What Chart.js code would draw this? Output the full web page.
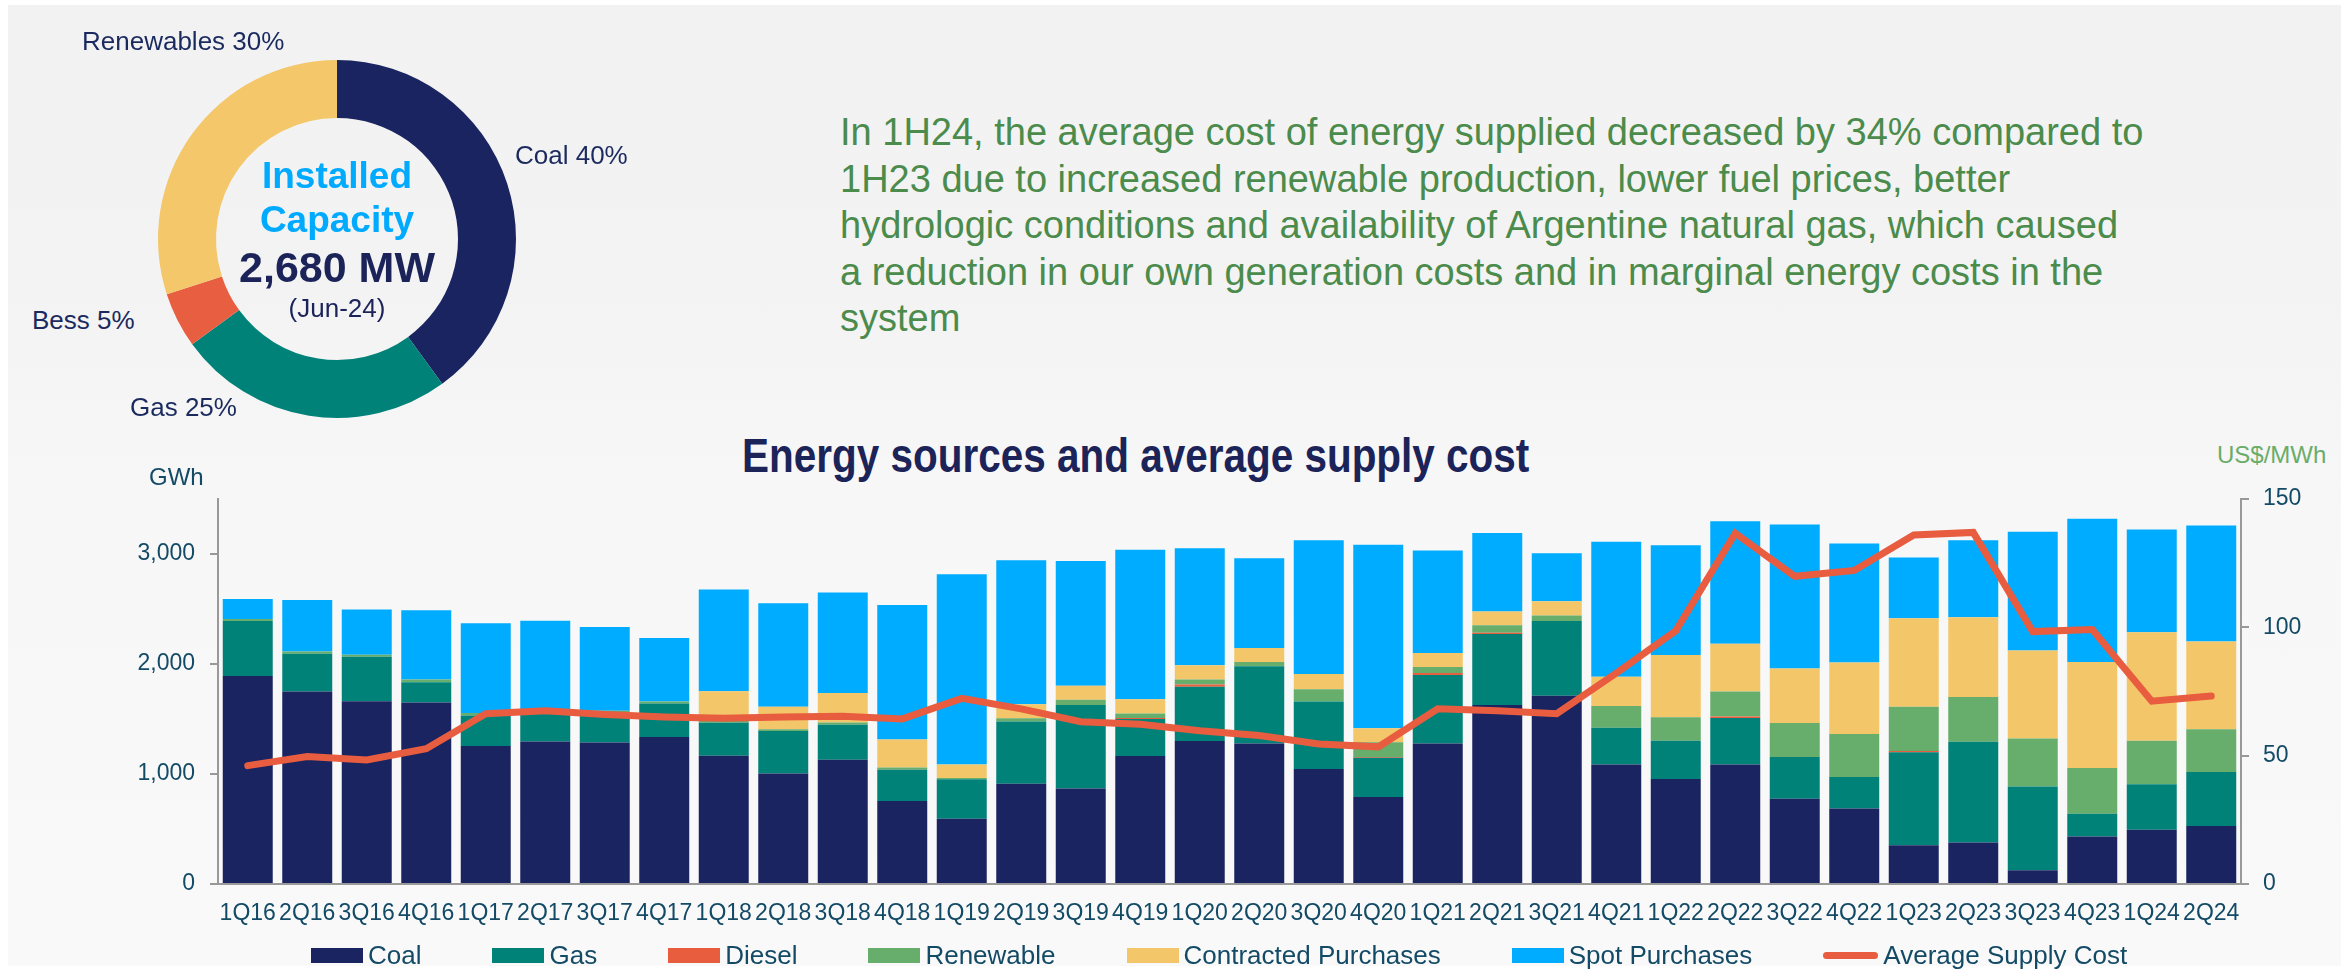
<!DOCTYPE html>
<html>
<head>
<meta charset="UTF-8">
<title>Energy sources and average supply cost</title>
<script src="https://cdn.jsdelivr.net/npm/chart.js@4.4.1/dist/chart.umd.min.js"></script>
<style>
  body { margin: 0; width: 2351px; height: 971px; background: #ffffff; position: relative; overflow: hidden;
         font-family: "Liberation Sans", Arial, sans-serif; }
  #panel { position: absolute; left: 8px; top: 5px; width: 2333px; height: 961px;
           background: linear-gradient(to bottom, #f2f2f2 0%, #f3f3f3 30%, #f7f7f7 50%, #f9f9f9 100%); }
  .txt { position: absolute; white-space: nowrap; line-height: 1; }
  .mid { transform: translateX(-50%); }
  #donutWrap { position: absolute; left: 137px; top: 39px; width: 400px; height: 400px; }
  #barWrap { position: absolute; left: 0; top: 470px; width: 2351px; height: 480px; }
  #para { position: absolute; left: 840px; top: 109px; color: #4b8b4b; font-size: 38px; line-height: 46.5px; white-space: nowrap; }
  #legend { position: absolute; left: 311px; top: 942px; height: 26px; display: flex; align-items: center; gap: 71px;
            font-size: 26px; color: #134a66; }
  .item { display: flex; align-items: center; }
  .box { width: 52px; height: 15px; margin-right: 5px; }
  .lineBox { width: 55px; height: 7px; border-radius: 4px; margin-right: 5px; }
</style>
</head>
<body>
<div id="panel"></div>

<div id="donutWrap"><canvas id="donut"></canvas></div>

<div class="txt" style="left:82px;top:28px;font-size:26px;color:#1b2a5e">Renewables 30%</div>
<div class="txt" style="left:515px;top:142px;font-size:26px;color:#1b2a5e">Coal 40%</div>
<div class="txt" style="left:32px;top:307px;font-size:26px;color:#1b2a5e">Bess 5%</div>
<div class="txt" style="left:130px;top:394px;font-size:26px;color:#1b2a5e">Gas 25%</div>

<div class="txt mid" style="left:337px;top:157px;font-size:37px;font-weight:bold;color:#00aaff">Installed</div>
<div class="txt mid" style="left:337px;top:201px;font-size:37px;font-weight:bold;color:#00aaff">Capacity</div>
<div class="txt mid" style="left:337px;top:246px;font-size:43px;font-weight:bold;color:#1b2359">2,680 MW</div>
<div class="txt mid" style="left:337px;top:295px;font-size:26px;color:#1b2359">(Jun-24)</div>

<div id="para">In 1H24, the average cost of energy supplied decreased by 34% compared to<br>1H23 due to increased renewable production, lower fuel prices, better<br>hydrologic conditions and availability of Argentine natural gas, which caused<br>a reduction in our own generation costs and in marginal energy costs in the<br>system</div>

<div class="txt" style="left:742px;top:431px;font-size:49px;font-weight:bold;color:#1b2359;transform:scaleX(0.826);transform-origin:left top">Energy sources and average supply cost</div>
<div class="txt" style="left:149px;top:465px;font-size:24px;color:#134a66">GWh</div>
<div class="txt" style="left:2217px;top:443px;font-size:24px;color:#6aad6a">US$/MWh</div>

<div id="barWrap"><canvas id="bars"></canvas></div>
<div id="legend"></div>

<script>
// installed capacity (Jun-24)
var capLabels = ["Coal", "Gas", "Bess", "Renewables"];
var capShare = [40, 25, 5, 30];
var capColors = ["#1a2460", "#008278", "#e85e40", "#f3c76a"];

// quarterly energy sources, GWh
var quarters = ["1Q16","2Q16","3Q16","4Q16","1Q17","2Q17","3Q17","4Q17","1Q18","2Q18","3Q18","4Q18",
                "1Q19","2Q19","3Q19","4Q19","1Q20","2Q20","3Q20","4Q20","1Q21","2Q21","3Q21","4Q21",
                "1Q22","2Q22","3Q22","4Q22","1Q23","2Q23","3Q23","4Q23","1Q24","2Q24"];
var coal =       [1890,1750,1660,1650,1255,1295,1285,1335,1165,1005,1130,755, 593, 910, 868, 1164,1300,1276,1046,791, 1276,1627,1710,1085, 954, 1085,775, 686, 351, 376, 124, 431, 494, 526];
var gas =        [500, 343, 404, 184, 276, 265, 275, 305, 300, 386, 318, 282, 358, 567, 759, 335, 493, 702, 613, 357, 622, 644, 679, 335, 348, 424, 380, 287, 845, 916, 763, 207, 412, 492];
var diesel =     [0,   0,   0,   0,   0,   0,   0,   0,   0,   0,   0,   0,   0,   0,   0,   10,  19,  0,   0,   5,   19,  13,  0,   0,   0,   13,  0,   0,   13,  0,   0,   0,   0,   0];
var renewable =  [18,  19,  19,  23,  22,  15,  15,  19,  15,  16,  19,  22,  12,  29,  48,  41,  45,  38,  111, 136, 54,  67,  51,  197, 213, 226, 309, 389, 402, 408, 434, 415, 396, 389];
var contracted = [0,   0,   0,   0,   0,   0,   0,   0,   271, 204, 268, 255, 122, 127, 127, 128, 130, 128, 138, 127, 128, 124, 128, 265, 565, 434, 495, 651, 804, 724, 800, 963, 985, 797];
var spot =       [182, 469, 412, 631, 817, 818, 760, 577, 925, 941, 913, 1222,1729,1308,1133,1359,1063,816, 1215,1666,932, 715, 437, 1228,998, 1113,1308,1081,552, 699, 1079,1302,935, 1053];
// average supply cost, US$/MWh
var avgCost = [46.1,49.6,48.3,52.7,66.3,67.5,66.0,65.0,64.5,65.0,65.3,64.3,72.3,68.2,63.2,62.2,59.7,57.8,54.5,53.4,
               68.2,67.5,66.3,82.1,98.6,136.6,119.8,122.1,135.9,136.9,98.3,99.1,71.2,73.2];
var gwhTicks = [0, 1000, 2000, 3000];

var seriesNames = ["Coal", "Gas", "Diesel", "Renewable", "Contracted Purchases", "Spot Purchases", "Average Supply Cost"];
var seriesColors = ["#1a2460", "#008278", "#e95d3f", "#67ad6b", "#f3c769", "#00acff", "#e85c3f"];

Chart.defaults.font.family = '"Liberation Sans", Arial, sans-serif';
Chart.defaults.animation = false;

new Chart(document.getElementById("donut"), {
  type: "doughnut",
  data: {
    labels: capLabels,
    datasets: [{ data: capShare, backgroundColor: capColors, borderWidth: 0 }]
  },
  options: {
    responsive: true,
    maintainAspectRatio: false,
    cutout: 121,
    layout: { padding: 21 },
    plugins: { legend: { display: false }, tooltip: { enabled: false } }
  }
});

var barSeries = [coal, gas, diesel, renewable, contracted, spot];
var datasets = barSeries.map(function (vals, i) {
  return {
    type: "bar",
    label: seriesNames[i],
    data: vals,
    backgroundColor: seriesColors[i],
    borderWidth: 0,
    barPercentage: 0.84,
    categoryPercentage: 1.0,
    yAxisID: "y",
    order: 1
  };
});
datasets.push({
  type: "line",
  label: seriesNames[6],
  data: avgCost,
  borderColor: seriesColors[6],
  backgroundColor: seriesColors[6],
  borderWidth: 7,
  pointRadius: 0,
  tension: 0,
  borderCapStyle: "round",
  yAxisID: "y1",
  order: 0
});

var tickColor = "#134a66";
new Chart(document.getElementById("bars"), {
  data: { labels: quarters, datasets: datasets },
  options: {
    responsive: true,
    maintainAspectRatio: false,
    layout: { padding: { top: 19, left: 0, right: 0, bottom: 0 } },
    plugins: { legend: { display: false }, tooltip: { enabled: false } },
    scales: {
      x: {
        stacked: true,
        grid: { display: false, drawTicks: false },
        border: { display: true, color: "#999999", width: 2 },
        ticks: { color: tickColor, font: { size: 23 }, padding: 16, maxRotation: 0, autoSkip: false },
        afterFit: function (s) { s.height = 66; }
      },
      y: {
        stacked: true,
        position: "left",
        min: 0, max: 3500,
        grid: { drawOnChartArea: false, drawTicks: true, tickLength: 8, color: "#999999", lineWidth: 2 },
        border: { display: true, color: "#999999", width: 2 },
        ticks: {
          color: tickColor, font: { size: 23 }, padding: 15,
          callback: function (v) { return v.toLocaleString("en-US"); }
        },
        afterBuildTicks: function (s) { s.ticks = gwhTicks.map(function (v) { return { value: v }; }); },
        afterFit: function (s) { s.width = 218; }
      },
      y1: {
        position: "right",
        min: 0, max: 150,
        grid: { drawOnChartArea: false, drawTicks: true, tickLength: 8, color: "#999999", lineWidth: 2 },
        border: { display: true, color: "#999999", width: 2 },
        ticks: { stepSize: 50, color: tickColor, font: { size: 23 }, padding: 14 },
        afterFit: function (s) { s.width = 110; }
      }
    }
  }
});

// legend
var legend = document.getElementById("legend");
seriesNames.forEach(function (name, i) {
  var item = document.createElement("div");
  item.className = "item";
  var sw = document.createElement("div");
  sw.className = i === 6 ? "lineBox" : "box";
  sw.style.background = seriesColors[i];
  var t = document.createElement("span");
  t.textContent = name;
  item.appendChild(sw);
  item.appendChild(t);
  legend.appendChild(item);
});
</script>
</body>
</html>
